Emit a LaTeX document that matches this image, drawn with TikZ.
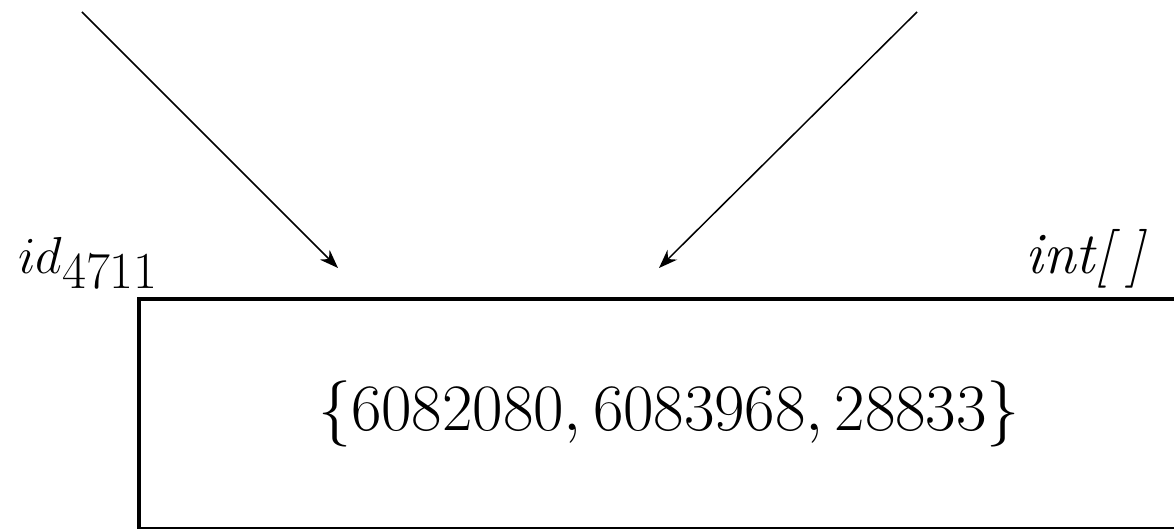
\documentclass[tikz,border=0pt]{standalone}
\usepackage{fix-cm}
\usepackage{amsmath}
\usepackage{fontspec}
\usetikzlibrary{arrows.meta}

\begin{document}
\begin{tikzpicture}[x=0.4pt, y=0.4pt,
    ref/.style={line width=0.6pt, -{Stealth[length=7.5pt, width=5.5pt]}}]
\useasboundingbox (0,0) rectangle (1174,528);
\clip (0,0) rectangle (1174,528);

   \node [draw, line width=1.4pt, anchor=north west, outer sep=0pt, inner sep=0pt,
      minimum width=432pt, minimum height=92pt] (arr) at (139,229) {};
   \node [anchor=base] (vals) at (669,98)
      {\fontsize{26.5}{32}\selectfont $\{6082080, 6083968, 28833\}$};

   \node [anchor=base west, inner sep=0pt] (name) at (18,255)
      {\fontsize{20.8}{25}\selectfont $id_{\textstyle 4711}$};
   \node [anchor=base east, inner sep=0pt] (type) at (1145,255)
      {\fontsize{23.5}{28}\selectfont\itshape int[\hspace{0.25em}]};

   \coordinate (src1) at (82,516);
   \coordinate (src2) at (917,516);
   \coordinate (hit1) at (338,260);
   \coordinate (hit2) at (659,260);
   \draw [ref] (src1) -- (hit1);
   \draw [ref] (src2) -- (hit2);
\end{tikzpicture}
\end{document}
